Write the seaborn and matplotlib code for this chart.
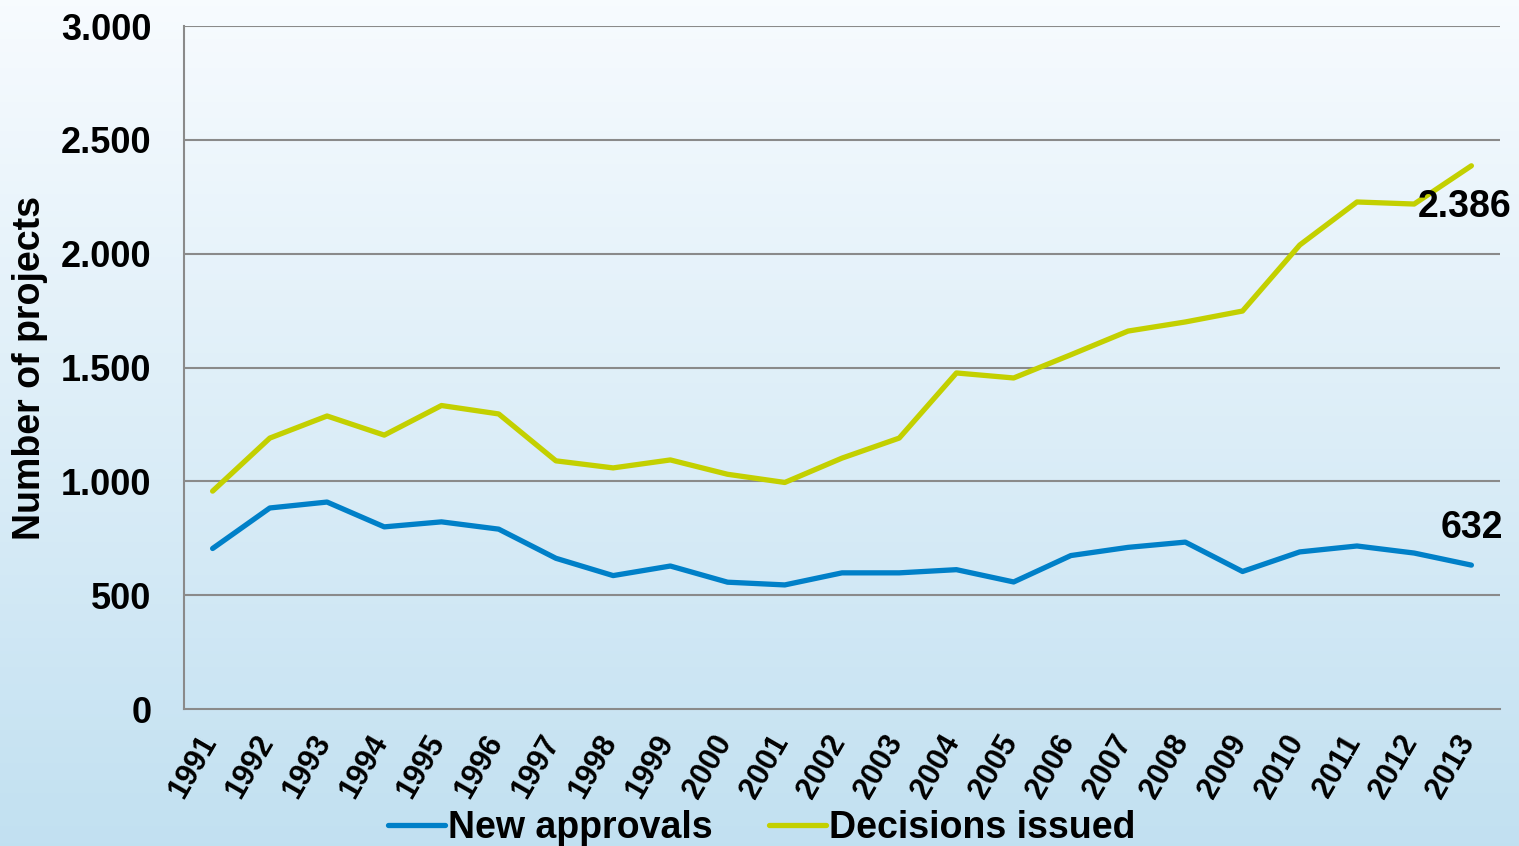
import numpy as np
import pandas as pd
import matplotlib
matplotlib.use("Agg")
import matplotlib.pyplot as plt
import matplotlib.transforms as mtransforms
from matplotlib.ticker import FixedLocator, FuncFormatter
import seaborn as sns

# dados
anos = [str(a) for a in range(1991, 2014)]
novas_aprovacoes = [705, 883, 909, 800, 822, 790, 662, 586, 628, 557, 545, 598,
                    598, 612, 558, 674, 710, 733, 604, 690, 716, 685, 632]
decisoes_emitidas = [957, 1190, 1287, 1203, 1333, 1296, 1090, 1059, 1094, 1031, 995, 1102,
                     1190, 1476, 1454, 1556, 1660, 1700, 1748, 2038, 2227, 2218, 2386]
series_nomes = ["New approvals", "Decisions issued"]
cores = ["#0080c8", "#c3d000"]
y_ticks = [0, 500, 1000, 1500, 2000, 2500, 3000]

df = pd.DataFrame({
    "ano": anos * 2,
    "valor": novas_aprovacoes + decisoes_emitidas,
    "serie": [series_nomes[0]] * len(anos) + [series_nomes[1]] * len(anos),
})

sns.set_style("white")
plt.rcParams["font.family"] = ["Liberation Sans", "DejaVu Sans"]
plt.rcParams["font.weight"] = "bold"
plt.rcParams["text.color"] = "black"
plt.rcParams["xtick.color"] = "black"
plt.rcParams["ytick.color"] = "black"
plt.rcParams["axes.labelcolor"] = "black"

fig = plt.figure(figsize=(15.19, 8.46), dpi=100)

# fundo em degrade (branco em cima, azul claro embaixo)
bg = fig.add_axes([0, 0, 1, 1], zorder=-10)
grad = np.linspace(0, 1, 256).reshape(-1, 1)
topo = np.array([0.97, 0.985, 0.998])
base = np.array([0.76, 0.88, 0.945])
img = topo + (base - topo) * grad[:, :, None] * np.ones((1, 1, 3))
bg.imshow(img, aspect="auto", extent=[0, 1, 0, 1])
bg.axis("off")

ax = fig.add_axes([184 / 1519, 1 - 709 / 846, (1500 - 184) / 1519, (709 - 26) / 846])
ax.set_facecolor("none")

sns.lineplot(data=df, x="ano", y="valor", hue="serie", palette=cores,
             linewidth=3.8, ax=ax, sort=False)
for ln in ax.lines:
    ln.set_solid_capstyle("round")

cinza = "#8a8a8a"
ax.set_xlim(-0.5, len(anos) - 0.5)
ax.set_ylim(0, 3000)
ax.set_yticks(y_ticks)
ax.yaxis.set_major_formatter(FuncFormatter(lambda v, p: f"{int(v):,}".replace(",", ".")))
for yv in y_ticks[1:]:
    ax.axhline(yv, color=cinza, lw=1.5, zorder=0)

ax.set_xticks(range(len(anos)))
ax.set_xticklabels(anos)
ax.xaxis.set_minor_locator(FixedLocator(np.arange(-0.5, len(anos), 1.0)))
ax.tick_params(axis="x", which="major", length=0, pad=15, labelsize=22, labelrotation=60)
ax.tick_params(axis="x", which="minor", length=6, width=1.5, color=cinza)
ax.tick_params(axis="y", length=6.5, width=1.5, color=cinza, pad=17, labelsize=26)
desloc = mtransforms.ScaledTranslation(10 / 100, 0, fig.dpi_scale_trans)
for lab in ax.get_xticklabels():
    lab.set_fontweight("bold")
    lab.set_ha("right")
    lab.set_transform(lab.get_transform() + desloc)
for lab in ax.get_yticklabels():
    lab.set_fontweight("bold")

for lado in ["top", "right"]:
    ax.spines[lado].set_visible(False)
for lado in ["left", "bottom"]:
    ax.spines[lado].set_color(cinza)
    ax.spines[lado].set_linewidth(1.5)

ax.set_xlabel("")
ax.set_ylabel("")
fig.text(30 / 1519, 1 - 368 / 846, "Number of projects", rotation=90,
         ha="center", va="center", fontsize=27, fontweight="bold")

# rotulos dos ultimos valores
ultimo = len(anos) - 1
ax.annotate(f"{decisoes_emitidas[-1]:,}".replace(",", "."), xy=(ultimo, decisoes_emitidas[-1]),
            xytext=(-5, -30), textcoords="offset points", ha="center", va="center",
            fontsize=27, fontweight="bold", annotation_clip=False)
ax.annotate(f"{novas_aprovacoes[-1]:,}".replace(",", "."), xy=(ultimo, novas_aprovacoes[-1]),
            xytext=(0, 27), textcoords="offset points", ha="center", va="center",
            fontsize=27, fontweight="bold", annotation_clip=False)

handles, labels = ax.get_legend_handles_labels()
ax.get_legend().remove()
leg = fig.legend(handles, labels, loc="center", bbox_to_anchor=(762 / 1519, 1 - 828 / 846),
                 ncol=2, frameon=False, handlelength=1.5, handletextpad=0.1,
                 columnspacing=1.5, prop={"size": 27, "weight": "bold"})
for h in leg.get_lines():
    h.set_linewidth(3.8)

fig.savefig("out.png", dpi=100)
